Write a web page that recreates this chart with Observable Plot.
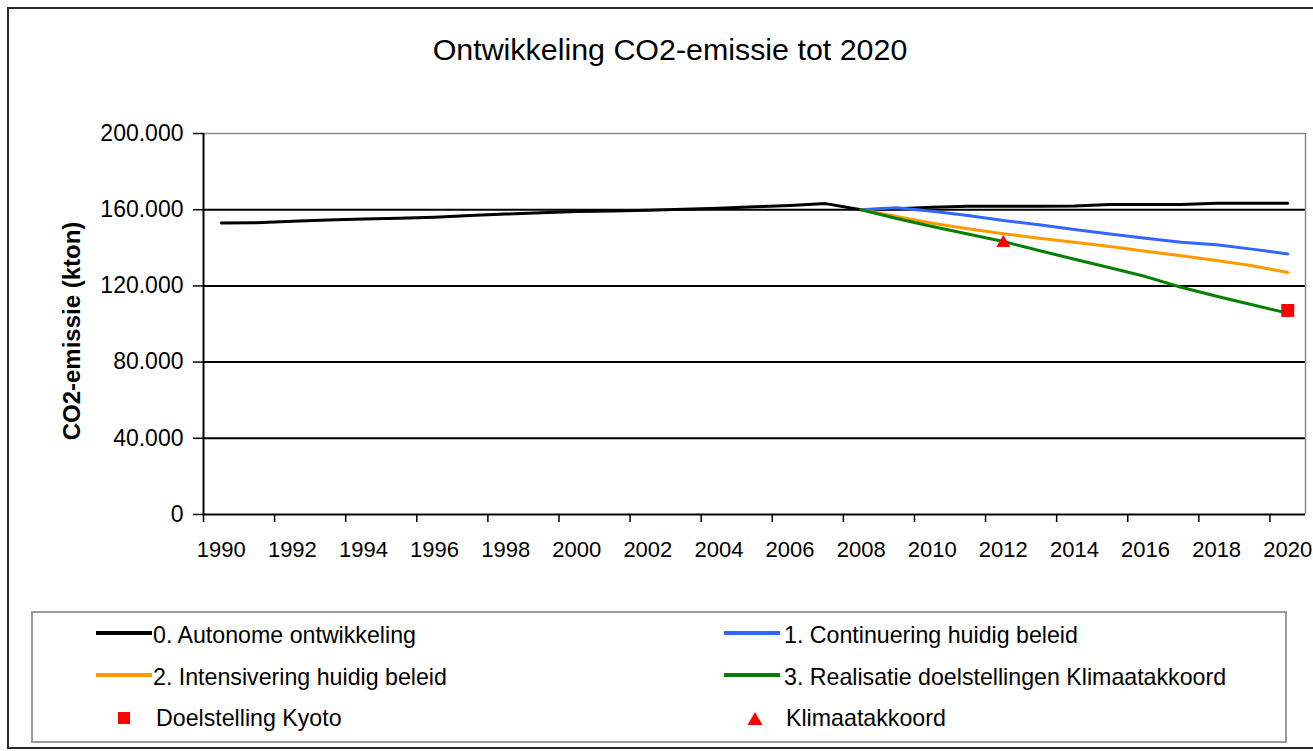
<!DOCTYPE html>
<html>
<head>
<meta charset="utf-8">
<script src="https://cdn.jsdelivr.net/npm/d3@7"></script>
<script src="https://cdn.jsdelivr.net/npm/@observablehq/plot@0.6"></script>
<style>
  html, body { margin: 0; padding: 0; background: #fff; overflow: hidden; }
  #page { position: relative; width: 1313px; height: 751px; overflow: hidden;
          font-family: "Liberation Sans", Arial, sans-serif; color: #000; }
  #frame { position: absolute; left: 7px; top: 7px; width: 1330px; height: 738px;
           border: 2px solid #2a2a2a; }
  #title { position: absolute; left: 0; width: 1340px; top: 34px; text-align: center;
           font-size: 30.4px; line-height: 30px; white-space: nowrap; }
  #ytitle { position: absolute; left: 72px; top: 331px; white-space: nowrap;
            font-size: 24px; font-weight: bold; line-height: 24px;
            transform: translate(-50%, -50%) rotate(-90deg); }
  #chart { position: absolute; left: 0; top: 100px; }
  #legend { position: absolute; left: 31px; top: 611px; width: 1252px; height: 128px;
            border: 2px solid #9a9a9a; }
  .item { position: absolute; height: 23px; font-size: 23.2px; line-height: 23px; white-space: nowrap; }
  .sw { position: absolute; }
</style>
</head>
<body>
<div id="page">
  <div id="frame"></div>
  <div id="title"></div>
  <div id="ytitle"></div>
  <div id="chart"></div>
  <div id="legend"></div>
</div>
<script>
// ---- data ----
const chartTitle = "Ontwikkeling CO2-emissie tot 2020";
const yTitle = "CO2-emissie (kton)";

const years = [1990, 1991, 1992, 1993, 1994, 1995, 1996, 1997, 1998, 1999, 2000,
               2001, 2002, 2003, 2004, 2005, 2006, 2007, 2008, 2009, 2010,
               2011, 2012, 2013, 2014, 2015, 2016, 2017, 2018, 2019, 2020];
const autonoom = [153000, 153200, 154000, 154600, 155100, 155500, 156100, 156900, 157700, 158400, 159000,
                  159300, 159700, 160200, 160800, 161500, 162200, 163200, 160000, 160500, 161300,
                  161800, 161850, 161850, 162000, 162700, 162750, 162750, 163400, 163450, 163450];

const scenarioYears = [2008, 2009, 2010, 2011, 2012, 2013, 2014, 2015, 2016, 2017, 2018, 2019, 2020];
const continuering  = [160000, 161000, 159200, 157000, 154300, 152100, 149600, 147300, 145000, 142900, 141600, 139300, 136800];
const intensivering = [160000, 156400, 152900, 150000, 147400, 145000, 142900, 140700, 138200, 135800, 133300, 130600, 127000];
const realisatie    = [160000, 155400, 151200, 147200, 143300, 138600, 134000, 129500, 124900, 119300, 114600, 110100, 105700];

const kyotoYear = 2020, kyotoValue = 107100;
const klimaatYear = 2012, klimaatValue = 142500;

const xTickLabels = [1990, 1992, 1994, 1996, 1998, 2000, 2002, 2004, 2006, 2008, 2010, 2012, 2014, 2016, 2018, 2020];
const yTicks = [0, 40000, 80000, 120000, 160000, 200000];

const seriesNames = ["0. Autonome ontwikkeling", "1. Continuering huidig beleid",
                     "2. Intensivering huidig beleid", "3. Realisatie doelstellingen Klimaatakkoord"];
const markerNames = ["Doelstelling Kyoto", "Klimaatakkoord"];
const colors = ["#000000", "#3366ff", "#ff9900", "#008000"];
const markerColor = "#ff0000";

// ---- build ----
document.getElementById("title").textContent = chartTitle;
document.getElementById("ytitle").textContent = yTitle;

const nl = d3.formatLocale({decimal: ",", thousands: ".", grouping: [3], currency: ["€", ""]});
const fmt = nl.format(",d");

const autoData = years.map((y, i) => ({year: y, value: autonoom[i]}));
const mk = arr => scenarioYears.map((y, i) => ({year: y, value: arr[i]}));
const contData = mk(continuering), intData = mk(intensivering), realData = mk(realisatie);

const first = years[0] - 0.5, last = years[years.length - 1] + 0.5;
const boundaries = xTickLabels.map(y => y - 0.5);

const chart = Plot.plot({
  width: 1313, height: 470,
  marginTop: 33, marginBottom: 56, marginLeft: 203, marginRight: 8,
  style: {background: "transparent", fontFamily: "'Liberation Sans', Arial, sans-serif", color: "#000", overflow: "visible"},
  x: {type: "linear", domain: [first, last]},
  y: {domain: [0, 200000]},
  marks: [
    Plot.ruleY(yTicks.filter(v => v > 0 && v < 200000), {stroke: "#000", strokeWidth: 2}),
    Plot.ruleY([200000], {stroke: "#8c8c8c", strokeWidth: 1.5}),
    Plot.ruleX([last], {stroke: "#8c8c8c", strokeWidth: 1.5}),
    Plot.axisX({ticks: boundaries, tickSize: 8, tickFormat: () => "", strokeWidth: 1.5, label: null}),
    Plot.axisX({ticks: xTickLabels, tickSize: 0, tickPadding: 27, tickFormat: d => String(d), fontSize: 22, label: null}),
    Plot.axisY({ticks: yTicks, tickSize: 10, tickPadding: 10, tickFormat: fmt, fontSize: 23, strokeWidth: 1.5, label: null}),
    Plot.ruleY([0], {stroke: "#000", strokeWidth: 2}),
    Plot.ruleX([first], {stroke: "#000", strokeWidth: 2}),
    Plot.line(autoData, {x: "year", y: "value", stroke: colors[0], strokeWidth: 3}),
    Plot.line(contData, {x: "year", y: "value", stroke: colors[1], strokeWidth: 3}),
    Plot.line(intData, {x: "year", y: "value", stroke: colors[2], strokeWidth: 3}),
    Plot.line(realData, {x: "year", y: "value", stroke: colors[3], strokeWidth: 3}),
    Plot.dot([{year: klimaatYear, value: klimaatValue}], {x: "year", y: "value", symbol: "triangle", r: 5.2, fill: markerColor, stroke: "none"}),
    Plot.dot([{year: kyotoYear, value: kyotoValue}], {x: "year", y: "value", symbol: "square", r: 7.3, fill: markerColor, stroke: "none"})
  ]
});
document.getElementById("chart").appendChild(chart);

// ---- legend ----
const legend = document.getElementById("legend");
const ox = 33, oy = 613;
function addText(txt, x, cy) {
  const d = document.createElement("div");
  d.className = "item";
  d.textContent = txt;
  d.style.left = (x - ox) + "px";
  d.style.top = (cy - 11.5 - oy) + "px";
  legend.appendChild(d);
}
function addLineSwatch(color, x1, x2, cy) {
  const d = document.createElement("div");
  d.className = "sw";
  d.style.left = (x1 - ox) + "px";
  d.style.top = (cy - 2 - oy) + "px";
  d.style.width = (x2 - x1) + "px";
  d.style.height = "4px";
  d.style.background = color;
  legend.appendChild(d);
}
function addSquare(cx, cy) {
  const d = document.createElement("div");
  d.className = "sw";
  d.style.left = (cx - 6 - ox) + "px";
  d.style.top = (cy - 6 - oy) + "px";
  d.style.width = "12px"; d.style.height = "12px";
  d.style.background = markerColor;
  legend.appendChild(d);
}
function addTriangle(cx, cy) {
  const ns = "http://www.w3.org/2000/svg";
  const s = document.createElementNS(ns, "svg");
  s.setAttribute("width", 16); s.setAttribute("height", 14);
  s.setAttribute("class", "sw");
  s.style.left = (cx - 8 - ox) + "px";
  s.style.top = (cy - 7 - oy) + "px";
  const p = document.createElementNS(ns, "path");
  p.setAttribute("d", "M8,0 L15.5,13 L0.5,13 Z");
  p.setAttribute("fill", markerColor);
  s.appendChild(p);
  legend.appendChild(s);
}
const rowsY = [633, 675, 718];
addLineSwatch(colors[0], 96, 152, rowsY[0]); addText(seriesNames[0], 153, rowsY[0] + 2);
addLineSwatch(colors[2], 96, 152, rowsY[1]); addText(seriesNames[2], 153, rowsY[1] + 2);
addSquare(124, rowsY[2]); addText(markerNames[0], 156, rowsY[2]);
addLineSwatch(colors[1], 724, 780, rowsY[0]); addText(seriesNames[1], 784, rowsY[0] + 2);
addLineSwatch(colors[3], 724, 780, rowsY[1]); addText(seriesNames[3], 784, rowsY[1] + 2);
addTriangle(755, rowsY[2] + 1); addText(markerNames[1], 786, rowsY[2]);
</script>
</body>
</html>
